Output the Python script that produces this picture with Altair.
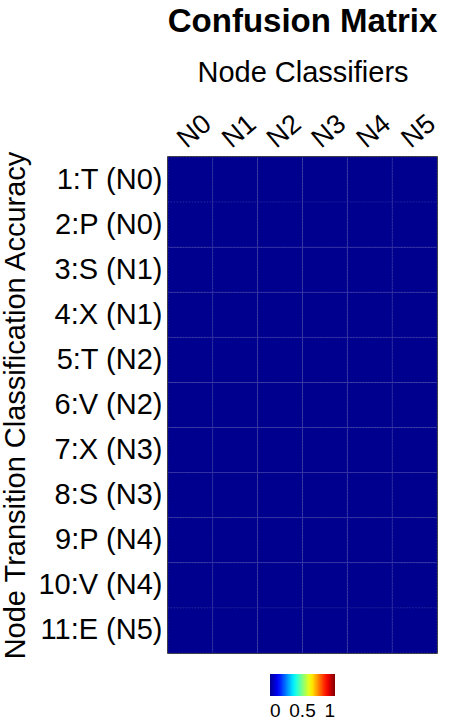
import altair as alt
import pandas as pd

classifiers = ["N0", "N1", "N2", "N3", "N4", "N5"]
transitions = ["1:T (N0)", "2:P (N0)", "3:S (N1)", "4:X (N1)", "5:T (N2)", "6:V (N2)",
               "7:X (N3)", "8:S (N3)", "9:P (N4)", "10:V (N4)", "11:E (N5)"]
accuracy = [
    [0, 0, 0, 0, 0, 0],
    [0, 0, 0, 0, 0, 0],
    [0, 0, 0, 0, 0, 0],
    [0, 0, 0, 0, 0, 0],
    [0, 0, 0, 0, 0, 0],
    [0, 0, 0, 0, 0, 0],
    [0, 0, 0, 0, 0, 0],
    [0, 0, 0, 0, 0, 0],
    [0, 0, 0, 0, 0, 0],
    [0, 0, 0, 0, 0, 0],
    [0, 0, 0, 0, 0, 0],
]
legend_ticks = [0, 0.5, 1]

rows = []
for i, t in enumerate(transitions):
    for j, c in enumerate(classifiers):
        rows.append({"transition": t, "classifier": c, "value": accuracy[i][j]})
df = pd.DataFrame(rows)

FONT = "Liberation Sans"

jet_domain = [0, 0.125, 0.375, 0.625, 0.875, 1]
jet_range = ["#00008F", "#0000FF", "#00FFFF", "#FFFF00", "#FF0000", "#800000"]

chart = alt.Chart(df).mark_rect(
    stroke="#3c3ca0", strokeWidth=0.7, strokeDash=[1, 2]
).encode(
    x=alt.X("classifier:N", sort=classifiers, title="Node Classifiers",
            axis=alt.Axis(orient="top", labelAngle=-40, labelFontSize=27,
                          labelFont=FONT, titleFont=FONT, titleFontSize=29,
                          titleFontWeight="normal", titlePadding=22,
                          ticks=False, domain=False, labelPadding=4,
                          labelColor="black", titleColor="black")),
    y=alt.Y("transition:N", sort=transitions,
            title="Node Transition Classification Accuracy",
            axis=alt.Axis(labelFontSize=29, labelFont=FONT, titleFont=FONT,
                          titleFontSize=29, titleFontWeight="normal",
                          ticks=False, domain=False, labelPadding=6,
                          titlePadding=7, labelColor="black", titleColor="black")),
    color=alt.Color("value:Q",
                    scale=alt.Scale(domain=jet_domain, range=jet_range, interpolate="rgb"),
                    legend=alt.Legend(orient="none", legendX=102, legendY=517,
                                      direction="horizontal", title=None,
                                      gradientLength=65, gradientThickness=22,
                                      gradientStrokeColor="#666666",
                                      values=legend_ticks, format="~g",
                                      labelOverlap=False, labelFontSize=19,
                                      labelFont=FONT, labelColor="black",
                                      labelOffset=6)),
).properties(
    width=269, height=496,
    title=alt.TitleParams("Confusion Matrix", font=FONT, fontSize=33,
                          fontWeight="bold", color="black", anchor="middle",
                          offset=19),
    autosize=alt.AutoSizeParams(type="none"),
    padding={"left": 168, "top": 157, "right": 13, "bottom": 74},
).configure_view(stroke="black", strokeWidth=1.5)

chart.save("out.html", embed_options={"renderer": "svg", "actions": False})
